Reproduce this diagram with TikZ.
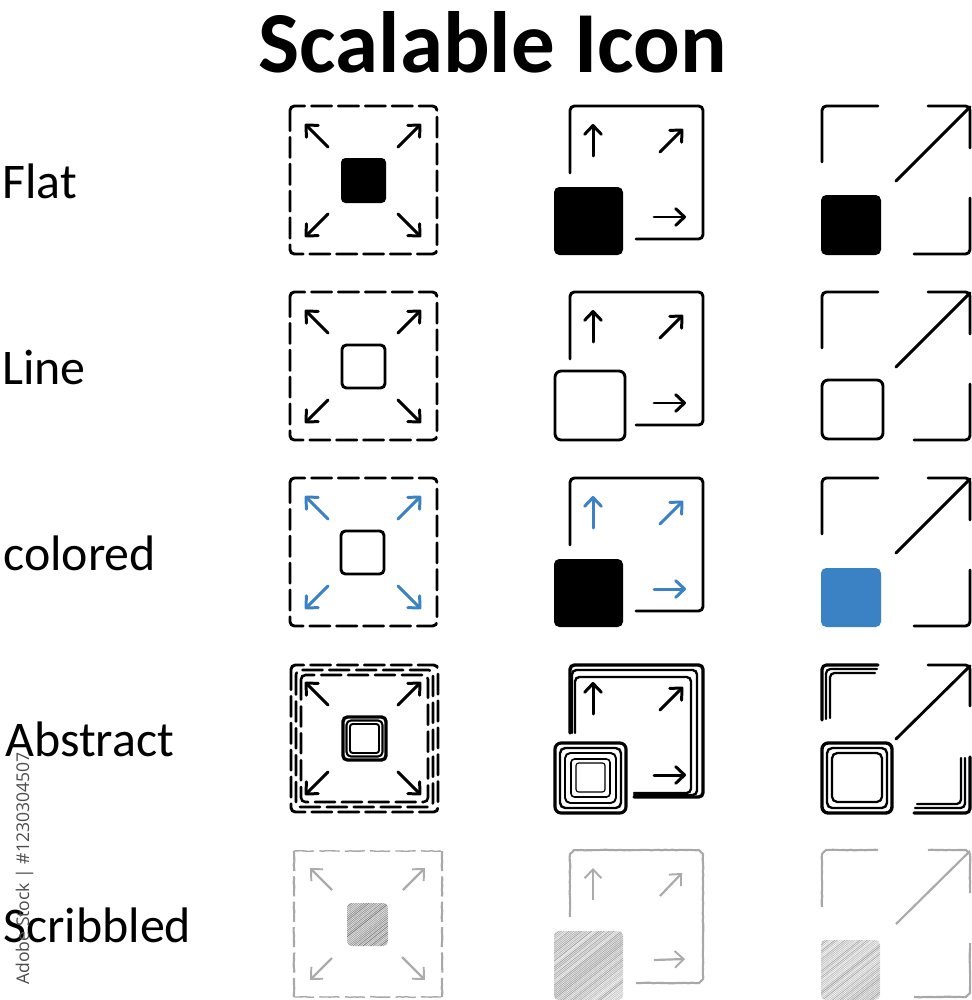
\documentclass[tikz,border=0pt]{standalone}
\usepackage{fontspec}
\setmainfont{Carlito}
\newfontfamily\stampfont{Open Sans}
\usetikzlibrary{arrows.meta,decorations.pathmorphing}
\definecolor{iconblue}{HTML}{3B82C4}
\tikzset{
  iconline/.style={line width=1.65pt,line cap=round,rounded corners=2.5pt},
  dashline/.style={iconline,dash pattern=on 11.5pt off 3.8pt},
  arrowline/.style={line width=1.7pt,line cap=round,-{Straight Barb[length=5pt,width=9.5pt,line width=1.7pt,round]}},
  scribbleline/.style={draw=black!34,line width=1.2pt,decorate,decoration={random steps,segment length=2pt,amplitude=.2pt}},
  scribblearrow/.style={draw=black!33,line width=1.25pt,-{Straight Barb[length=5pt,width=9.5pt,line width=1.1pt]}},
  rowlabel/.style={anchor=base west,inner sep=0pt,font=\fontsize{28.4}{30}\selectfont},
}
% arrows of the first column
\newcommand{\spreadarrows}[1]{
\draw [arrowline,#1] (328,-147) -- (305,-124);
\draw [arrowline,#1] (398,-147) -- (421,-124);
\draw [arrowline,#1] (328,-214) -- (305,-237);
\draw [arrowline,#1] (398,-214) -- (421,-237);
}
% arrows of the second column
\newcommand{\growarrows}[1]{
\draw [arrowline,#1] (593,-156) -- (593,-124);
\draw [arrowline,#1] (660,-152) -- (683,-129);
\draw [arrowline,#1] (654,-217) -- (686,-217);
}
\newcommand{\growframe}{
\draw [iconline] (570,-173) -- (570,-106) -- (703,-106) -- (703,-239) -- (636,-239);
}
\newcommand{\cornerlines}{
\draw [iconline] (822,-162) -- (822,-106) -- (878,-106);
\draw [iconline] (928,-106) -- (970,-106) -- (970,-148);
\draw [iconline] (970,-198) -- (970,-254) -- (914,-254);
\draw [iconline,sharp corners] (896,-181) -- (970,-107);
}
% hatched square, #5 is the mean darkness of the strokes
\newcommand{\scribblefill}[5]{
\begin{scope}
\clip [rounded corners=2.5pt] (#1,-#2) rectangle (#3,-#4);
\pgfmathsetmacro{\rise}{(#3-#1+20)*0.8}
\pgfmathsetmacro{\firstk}{-\rise}
\pgfmathsetmacro{\secondk}{\firstk+2}
\pgfmathsetmacro{\lastk}{#4-#2}
\foreach \k in {\firstk,\secondk,...,\lastk}{
  \pgfmathsetmacro{\shade}{#5+rnd*22}
  \draw [black!\shade,line width=.55pt] (#1-10,-#4+\k) -- (#3+10,-#4+\k+\rise);
}
\end{scope}
}
\begin{document}
\begin{tikzpicture}[x=0.2mm,y=0.2mm]
\pgfmathsetseed{12}
\useasboundingbox (0,0) rectangle (971,-1000);

\node (title) [anchor=base,inner sep=0pt,font=\fontsize{49.5}{54}\selectfont\bfseries] at (493,-72) {Scalable Icon};
\node (flat) [rowlabel] at (2,-198) {Flat};
\node (line) [rowlabel] at (2,-384) {Line};
\node (colored) [rowlabel] at (3,-570) {colored};
\node (abstract) [rowlabel] at (5,-756) {Abstract};
\node (scribbled) [rowlabel] at (3,-942) {Scribbled};
\node (stamp) [anchor=base west,rotate=90,inner sep=0pt,text=black!70,font=\stampfont\fontsize{10}{12}\selectfont] at (29,-985) {Adobe Stock | \#1230304507};

% flat
\draw [dashline] (290,-106) rectangle (437,-254);
\fill [rounded corners=2.5pt] (341,-158) rectangle (386,-203);
\spreadarrows{black}
\growframe
\fill [rounded corners=3pt] (554,-187) rectangle (623,-255);
\growarrows{black}
\cornerlines
\fill [rounded corners=3pt] (821,-195) rectangle (881,-255);

% line
\begin{scope}[shift={(0,-186)}]
\draw [dashline] (290,-106) rectangle (437,-254);
\draw [iconline] (342,-159) rectangle (385,-202);
\spreadarrows{black}
\growframe
\draw [iconline,rounded corners=3.5pt] (555,-185) rectangle (625,-254);
\growarrows{black}
\cornerlines
\draw [iconline,rounded corners=3.5pt] (822,-194) rectangle (883,-253);
\end{scope}

% colored
\begin{scope}[shift={(0,-372)}]
\draw [dashline] (290,-106) rectangle (437,-254);
\draw [iconline] (341,-159) rectangle (384,-202);
\spreadarrows{iconblue}
\growframe
\fill [rounded corners=3pt] (554,-187) rectangle (623,-255);
\growarrows{iconblue}
\cornerlines
\fill [iconblue,rounded corners=3pt] (821,-196) rectangle (881,-255);
\end{scope}

% abstract
\draw [dashline] (291,-665) rectangle (438,-812);
\draw [dashline,line width=1.45pt] (296,-670) rectangle (433,-807);
\draw [dashline,line width=1.45pt] (301,-675) rectangle (428,-802);
\draw [iconline,line width=1.9pt] (343,-717) rectangle (386,-760);
\draw [iconline,line width=1.2pt] (346.5,-720.5) rectangle (382.5,-756.5);
\draw [iconline,line width=1.1pt,rounded corners=1.5pt] (350,-724) rectangle (379,-753);
\begin{scope}[shift={(0,-558)}]
\spreadarrows{black}
\growarrows{black}
\end{scope}
\draw [iconline,line width=1.9pt] (570,-733) -- (570,-665) -- (703,-665) -- (703,-797) -- (634,-797);
\draw [iconline,line width=1.35pt] (572,-733) -- (572,-670) -- (697,-670) -- (697,-795) -- (634,-795);
\draw [iconline,line width=1.35pt] (575,-733) -- (575,-677) -- (691,-677) -- (691,-793) -- (634,-793);
\draw [iconline,line width=1.8pt,rounded corners=3.5pt] (555,-743) rectangle (626,-813);
\draw [iconline,line width=1.35pt,rounded corners=3pt] (560,-748) rectangle (621,-808);
\draw [iconline,line width=1.1pt,rounded corners=3pt] (565,-753) rectangle (616,-803);
\draw [iconline,line width=.9pt,rounded corners=2pt] (571,-759) rectangle (610,-797);
\draw [iconline,line width=.65pt,rounded corners=1.5pt] (576,-763) rectangle (605,-792);
\draw [iconline,line width=1.8pt] (822,-720) -- (822,-665) -- (878,-665);
\draw [iconline,line width=1.3pt] (826,-719) -- (826,-669) -- (877,-669);
\draw [iconline,line width=1.3pt] (830,-718) -- (830,-673) -- (875,-673);
\draw [iconline] (928,-665) -- (970,-665) -- (970,-706);
\draw [iconline,sharp corners] (896,-739) -- (970,-666);
\draw [iconline,line width=1.8pt] (970,-757) -- (970,-813) -- (914,-813);
\draw [iconline,line width=1.3pt] (965,-758) -- (965,-808) -- (915,-808);
\draw [iconline,line width=1.3pt] (961,-758) -- (961,-804) -- (917,-804);
\draw [iconline,line width=1.9pt,rounded corners=3.5pt] (822,-743) rectangle (892,-813);
\draw [iconline,line width=1.35pt,rounded corners=3pt] (827,-748) rectangle (887,-808);
\draw [iconline,line width=1.3pt,rounded corners=3pt] (832,-753) rectangle (882,-802);

% scribbled
\draw [scribbleline,line width=.8pt,dash pattern=on 11.5pt off 3pt] (294,-851) -- (442,-851);
\draw [scribbleline,line width=.8pt,dash pattern=on 11.5pt off 3pt] (294,-997) -- (442,-997);
\draw [scribbleline,dash pattern=on 11.5pt off 3pt] (442,-851) -- (442,-997);
\draw [scribbleline,dash pattern=on 11.5pt off 3pt] (294,-851) -- (294,-997);
\scribblefill{347}{903}{388}{946}{30}
\draw [scribblearrow] (332,-890) -- (310,-868);
\draw [scribblearrow] (403,-890) -- (425,-868);
\draw [scribblearrow] (332,-958) -- (310,-980);
\draw [scribblearrow] (402,-957) -- (425,-980);
\draw [scribbleline] (570,-917) -- (570,-854) -- (574,-850) -- (699,-850) -- (703,-854) -- (703,-979) -- (699,-983) -- (636,-983);
\scribblefill{554}{931}{623}{1000}{14}
\draw [scribblearrow] (593,-900) -- (593,-868);
\draw [scribblearrow] (660,-896) -- (682,-873);
\draw [scribblearrow] (654,-960) -- (685,-959);
\draw [scribbleline] (822,-907) -- (822,-854) -- (826,-850) -- (878,-850);
\draw [scribbleline] (928,-850) -- (966,-850) -- (970,-854) -- (970,-893);
\draw [scribbleline] (970,-943) -- (970,-993) -- (966,-997) -- (914,-997);
\draw [scribblearrow,-] (896,-924) -- (970,-851);
\scribblefill{821}{940}{880}{1000}{14}
\end{tikzpicture}
\end{document}
